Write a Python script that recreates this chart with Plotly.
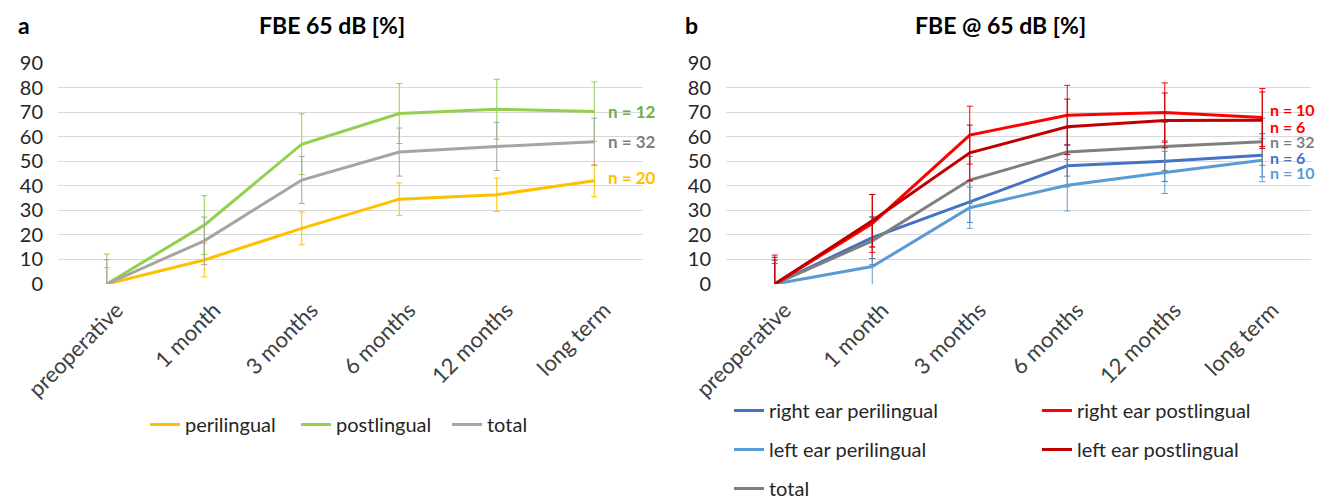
import plotly.graph_objects as go

# Time points
categories = ["preoperative", "1 month", "3 months", "6 months", "12 months", "long term"]
y_ticks = [0, 10, 20, 30, 40, 50, 60, 70, 80, 90]

# Panel a: FBE 65 dB [%] by onset group (mean and error)
perilingual = [0, 9.8, 22.7, 34.6, 36.4, 42.1]
perilingual_err = [6.7, 6.9, 6.7, 6.6, 6.8, 6.5]
postlingual = [0, 24.0, 57.0, 69.5, 71.3, 70.3]
postlingual_err = [12.2, 12.0, 12.4, 12.2, 12.2, 12.1]
total = [0, 17.6, 42.4, 53.8, 56.1, 58.0]
total_err = [9.9, 9.7, 9.6, 9.8, 9.8, 9.6]

# Panel b: FBE @ 65 dB [%] by ear and onset group
right_peri = [0, 18.9, 33.5, 48.2, 50.1, 52.5]
right_peri_err = [8.4, 8.5, 8.4, 8.6, 8.3, 8.8]
left_peri = [0, 7.1, 31.1, 40.3, 45.5, 50.5]
left_peri_err = [9.5, 8.0, 8.4, 10.5, 8.6, 8.8]
right_post = [0, 24.7, 60.7, 68.8, 69.9, 67.9]
right_post_err = [11.8, 11.8, 11.8, 12.2, 12.1, 11.8]
left_post = [0, 25.8, 53.5, 64.1, 66.7, 66.8]
left_post_err = [10.9, 10.7, 11.3, 11.3, 11.2, 11.5]

# Group sizes
n_a = {"postlingual": 12, "total": 32, "perilingual": 20}
n_b = {"right_post": 10, "left_post": 6, "total": 32, "right_peri": 6, "left_peri": 10}

FONT = "Lato"
W, H = 1326, 498


def px_x(p):
    return p / W


def px_y(p):
    return 1 - p / H


fig = go.Figure()


def add_series(name, y, err, color, xa, ya, legend, group, err_color=None):
    fig.add_trace(go.Scatter(
        x=categories, y=y, name=name, mode="lines",
        line=dict(color=color, width=3),
        error_y=dict(type="data", array=err, visible=True,
                     color=err_color or color, thickness=1, width=3),
        xaxis=xa, yaxis=ya, legend=legend, legendgroup=group,
        hoverinfo="skip",
    ))


# Panel a
add_series("perilingual", perilingual, perilingual_err, "#FFC000", "x", "y", "legend", "a1")
add_series("postlingual", postlingual, postlingual_err, "#92D050", "x", "y", "legend", "a2")
add_series("total", total, total_err, "#A5A5A5", "x", "y", "legend", "a3")

# Panel b
add_series("right ear perilingual", right_peri, right_peri_err, "#4472C4", "x2", "y2", "legend2", "b1")
add_series("left ear perilingual", left_peri, left_peri_err, "#5B9BD5", "x2", "y2", "legend2", "b2")
add_series("total", total, total_err, "#7F7F7F", "x2", "y2", "legend2", "b3")
add_series("right ear postlingual", right_post, right_post_err, "#FF0000", "x2", "y2", "legend3", "b4")
add_series("left ear postlingual", left_post, left_post_err, "#C00000", "x2", "y2", "legend3", "b5")

axis_common_x = dict(
    type="category", categoryorder="array", categoryarray=categories,
    range=[-0.5, 5.5], showgrid=False, zeroline=False, showline=False,
    ticks="", tickangle=-45, automargin=False,
    ticklabelstandoff=8, ticklabelshift=10,
    tickfont=dict(family=FONT, size=22, color="#404040"),
)
axis_common_y = dict(
    range=[0, 90], tickvals=y_ticks, showgrid=True, gridcolor="#D9D9D9",
    gridwidth=1, zeroline=False, showline=False, ticks="", automargin=False,
    tickfont=dict(family=FONT, size=20, color="#262626"), ticklabelstandoff=14,
)

legend_font = dict(family=FONT, size=20, color="#262626")

fig.update_layout(
    width=W, height=H,
    margin=dict(l=0, r=0, t=0, b=0, autoexpand=False),
    paper_bgcolor="white", plot_bgcolor="white",
    font=dict(family=FONT, color="#262626"),
    xaxis=dict(domain=[px_x(58), px_x(643)], anchor="y", **axis_common_x),
    yaxis=dict(domain=[px_y(284), px_y(63.3)], anchor="x", **axis_common_y),
    xaxis2=dict(domain=[px_x(726), px_x(1311)], anchor="y2", **axis_common_x),
    yaxis2=dict(domain=[px_y(284), px_y(63.3)], anchor="x2", **axis_common_y),
    legend=dict(orientation="h", x=px_x(145), y=px_y(405), xanchor="left", yanchor="top",
                font=legend_font, entrywidth=106, bgcolor="rgba(0,0,0,0)"),
    legend2=dict(orientation="v", x=px_x(729), y=px_y(391), xanchor="left", yanchor="top",
                 font=legend_font, tracegroupgap=10, bgcolor="rgba(0,0,0,0)"),
    legend3=dict(orientation="v", x=px_x(1037), y=px_y(391), xanchor="left", yanchor="top",
                 font=legend_font, tracegroupgap=10, bgcolor="rgba(0,0,0,0)"),
    showlegend=True,
)

# Panel letters and titles
for text, xc, anchor in [("a", 16, "left"), ("b", 683, "left"),
                         ("FBE 65 dB [%]", 332, "center"), ("FBE @ 65 dB [%]", 1000, "center")]:
    fig.add_annotation(text=f"<b>{text}</b>", xref="paper", yref="paper",
                       x=px_x(xc), y=px_y(25), xanchor=anchor, yanchor="middle",
                       showarrow=False, font=dict(family=FONT, size=23, color="#000000"))

# Group size labels next to the last time point
labels_a = [
    (n_a["postlingual"], postlingual[-1], "#70AD47", 0),
    (n_a["total"], total[-1], "#7F7F7F", 0),
    (n_a["perilingual"], perilingual[-1], "#FFC000", 3),
]
for n, yv, col, ys in labels_a:
    fig.add_annotation(text=f"<b>n = {n}</b>", xref="x", yref="y", x="long term", y=yv,
                       xanchor="left", yanchor="middle", xshift=12, yshift=ys,
                       showarrow=False, font=dict(family=FONT, size=17, color=col))

labels_b = [
    (n_b["right_post"], right_post[-1], "#FF0000", 8),
    (n_b["left_post"], left_post[-1], "#FF0000", -6),
    (n_b["total"], total[-1], "#7F7F7F", 0),
    (n_b["right_peri"], right_peri[-1], "#4472C4", -2),
    (n_b["left_peri"], left_peri[-1], "#5B9BD5", -12),
]
for n, yv, col, ys in labels_b:
    fig.add_annotation(text=f"<b>n = {n}</b>", xref="x2", yref="y2", x="long term", y=yv,
                       xanchor="left", yanchor="middle", xshift=6, yshift=ys,
                       showarrow=False, font=dict(family=FONT, size=16, color=col))

fig.write_html("out.html")
